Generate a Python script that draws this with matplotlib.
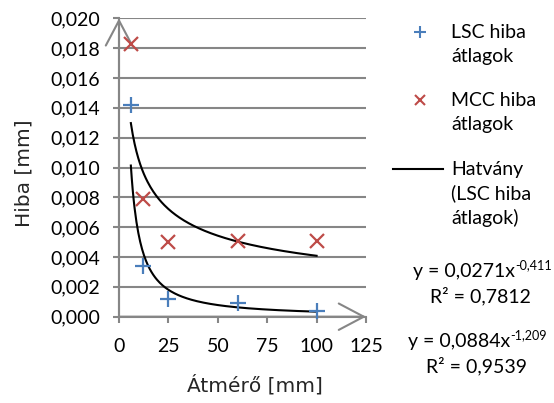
import numpy as np
import matplotlib
matplotlib.use("Agg")
import matplotlib.pyplot as plt
from matplotlib.ticker import FuncFormatter, MultipleLocator
from matplotlib.lines import Line2D

# Data
diameter = [6, 12, 25, 60, 100]
lsc_err = [0.0142, 0.0034, 0.0012, 0.0009, 0.0004]
mcc_err = [0.0183, 0.0079, 0.0050, 0.0051, 0.0051]

# Power trendlines as printed on the chart (y = a * x^b)
mcc_fit = (0.0271, -0.411, "0,7812")
lsc_fit = (0.0884, -1.209, "0,9539")

legend_labels = ["LSC hiba\nátlagok", "MCC hiba\nátlagok", "Hatvány\n(LSC hiba\nátlagok)"]

blue = "#4a7ebb"
red = "#be4b48"
grey = "#868686"
FS = 14

plt.rcParams["font.family"] = ["Lato", "DejaVu Sans"]

W, H = 554, 403
fig = plt.figure(figsize=(W / 100, H / 100), dpi=100)
ax = fig.add_axes([119 / W, 1 - 316.7 / H, (366 - 119) / W, (316.7 - 18.3) / H])


def fx(px):
    return px / W


def fy(py):
    return 1 - py / H


ax.set_xlim(0, 125)
ax.set_ylim(0, 0.020)
ax.xaxis.set_major_locator(MultipleLocator(25))
ax.yaxis.set_major_locator(MultipleLocator(0.002))
ax.xaxis.set_major_formatter(FuncFormatter(lambda v, p: f"{v:.0f}"))
ax.yaxis.set_major_formatter(FuncFormatter(lambda v, p: f"{v:.3f}".replace(".", ",")))
ax.grid(axis="y", color=grey, linewidth=1.5)
ax.set_axisbelow(True)
for s in ["top", "right"]:
    ax.spines[s].set_visible(False)
for s in ["left", "bottom"]:
    ax.spines[s].set_color(grey)
    ax.spines[s].set_linewidth(1.5)
ax.tick_params(colors=grey, width=1.5, length=4.5, labelcolor="black", labelsize=FS)
ax.tick_params(axis="y", pad=9)
ax.tick_params(axis="x", pad=11)

# trendlines from first to last x value
xs = np.linspace(diameter[0], diameter[-1], 200)
for a, b, _ in (mcc_fit, lsc_fit):
    ax.plot(xs, a * xs ** b, color="black", linewidth=1.5, zorder=3)

ax.plot(diameter, lsc_err, linestyle="none", marker="+", markersize=11,
        markeredgewidth=1.6, color=blue, zorder=4, clip_on=False)
ax.plot(diameter, mcc_err, linestyle="none", marker="x", markersize=10,
        markeredgewidth=1.6, color=red, zorder=4, clip_on=False)

# open arrow heads on the axes
arr = dict(arrowstyle="->,head_length=1.8,head_width=0.95", color=grey, lw=1.5,
           shrinkA=0, shrinkB=0, mutation_scale=10)
ax.annotate("", xy=(0, 1), xytext=(0, 0), xycoords="axes fraction", arrowprops=arr)
ax.annotate("", xy=(1, 0), xytext=(0, 0), xycoords="axes fraction", arrowprops=arr)

fig.text(fx(255), fy(385), "Átmérő [mm]", ha="center", va="center",
         fontsize=14.5, family="DejaVu Sans", color="#262626")
fig.text(fx(24), fy(173), "Hiba [mm]", ha="center", va="center",
         rotation=90, fontsize=14.5, family="DejaVu Sans", color="#262626")

# legend, drawn by hand to match the spacing
line_h = 24.5
fig.add_artist(Line2D([fx(420)], [fy(32)], linestyle="none", marker="+", markersize=9,
                      markeredgewidth=1.5, color=blue))
fig.add_artist(Line2D([fx(420)], [fy(100)], linestyle="none", marker="x", markersize=7,
                      markeredgewidth=1.5, color=red))
fig.add_artist(Line2D([fx(393), fx(443)], [fy(169), fy(169)], color="black", linewidth=1.5))
for lab, ytop in zip(legend_labels, [32, 100, 169]):
    for i, part in enumerate(lab.split("\n")):
        fig.text(fx(451), fy(ytop + i * line_h), part, ha="left", va="center", fontsize=FS)

# trendline equations with hand placed superscript
fig.canvas.draw()
renderer = fig.canvas.get_renderer()


def eq_block(fit, x_left, y_line, r2_center):
    a, b, r2 = fit
    a_s = f"{a:.4f}".replace(".", ",")
    b_s = f"{b:.3f}".replace(".", ",")
    t = fig.text(fx(x_left), fy(y_line), f"y = {a_s}x", ha="left", va="center", fontsize=FS)
    bb = t.get_window_extent(renderer)
    fig.text(bb.x1 / W, fy(y_line - 7), b_s, ha="left", va="center", fontsize=FS * 0.65)
    fig.text(fx(r2_center), fy(y_line + line_h), f"R² = {r2}", ha="center", va="center",
             fontsize=FS)


eq_block(mcc_fit, 413, 272, 480)
eq_block(lsc_fit, 408, 342, 476)

fig.savefig("out.png", dpi=100)
